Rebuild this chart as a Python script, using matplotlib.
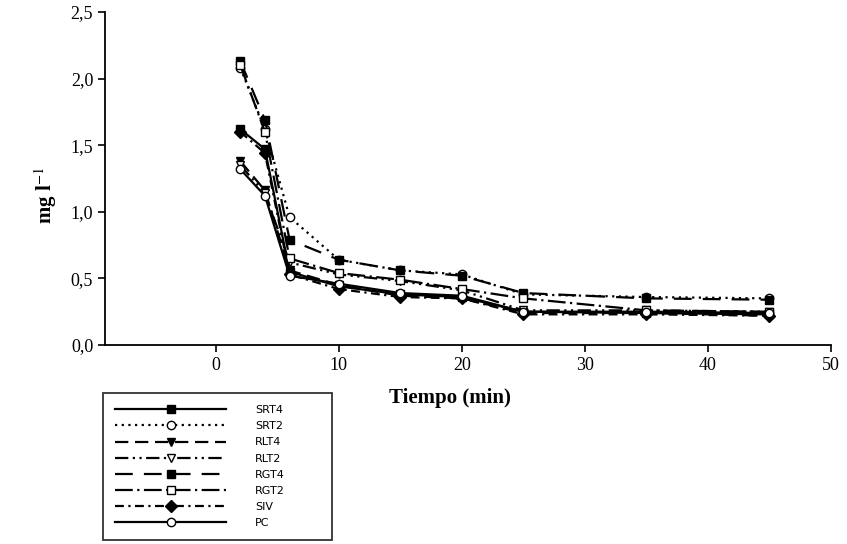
import numpy as np
import matplotlib.pyplot as plt

# tiempo de muestreo (min)
tiempo = [2, 4, 6, 10, 15, 20, 25, 35, 45]

# concentraciones (mg l-1)
srt4 = [1.62, 1.47, 0.55, 0.44, 0.38, 0.36, 0.25, 0.24, 0.23]
srt2 = [2.08, 1.62, 0.96, 0.64, 0.56, 0.53, 0.38, 0.36, 0.35]
rlt4 = [1.38, 1.16, 0.56, 0.45, 0.37, 0.35, 0.24, 0.24, 0.22]
rlt2 = [1.35, 1.14, 0.62, 0.53, 0.48, 0.41, 0.26, 0.26, 0.25]
rgt4 = [2.13, 1.69, 0.79, 0.64, 0.56, 0.52, 0.39, 0.35, 0.34]
rgt2 = [2.10, 1.60, 0.65, 0.54, 0.49, 0.42, 0.35, 0.26, 0.25]
siv = [1.60, 1.44, 0.53, 0.42, 0.36, 0.35, 0.23, 0.23, 0.22]
pc = [1.32, 1.12, 0.52, 0.46, 0.39, 0.37, 0.25, 0.25, 0.24]

labels = ['SRT4', 'SRT2', 'RLT4', 'RLT2', 'RGT4', 'RGT2', 'SIV', 'PC']
series = [srt4, srt2, rlt4, rlt2, rgt4, rgt2, siv, pc]

styles = [
    ('-', 's', 'k'),
    ((0, (1, 2)), 'o', 'w'),
    ((0, (6, 3)), 'v', 'k'),
    ((0, (6, 2, 1, 2, 1, 2)), 'v', 'w'),
    ((0, (8, 5)), 's', 'k'),
    ((0, (8, 2, 1, 2)), 's', 'w'),
    ((0, (4, 2, 1, 2)), 'D', 'k'),
    ('-', 'o', 'w'),
]

plt.rcParams['font.family'] = 'Liberation Serif'
plt.rcParams['mathtext.fontset'] = 'stix'

fig = plt.figure(figsize=(8.47, 5.44), dpi=100)
ax = fig.add_axes([105/847, 1-345/544, (831-105)/847, (345-12)/544])

for vals, lab, (ls, mk, fc) in zip(series, labels, styles):
    ax.plot(tiempo, vals, linestyle=ls, marker=mk, color='k', mfc=fc, mec='k',
            markersize=6, linewidth=1.6, label=lab)

ax.set_xlim(-9, 50)
ax.set_ylim(0, 2.5)
ax.set_xticks([0, 10, 20, 30, 40, 50])
ax.set_yticks(np.arange(0, 2.51, 0.5))
ax.set_yticklabels(['0,0', '0,5', '1,0', '1,5', '2,0', '2,5'])
ax.spines['top'].set_visible(False)
ax.spines['right'].set_visible(False)
ax.spines['left'].set_linewidth(1.3)
ax.spines['bottom'].set_linewidth(1.3)
ax.tick_params(direction='out', length=5, width=1.2, labelsize=13)

ax.set_xlabel('Tiempo (min)', fontsize=15, fontweight='bold')
ax.xaxis.set_label_coords(0.475, -0.13)
ax.set_ylabel('mg l$^{-1}$', fontsize=15, fontweight='bold')
ax.yaxis.set_label_coords(-0.064, 0.45)

leg = ax.legend(loc='upper left', bbox_to_anchor=(103/847, 0, 229/847, 1-393/544),
                bbox_transform=fig.transFigure, mode='expand', frameon=True,
                fancybox=False, edgecolor='k', handlelength=10, handletextpad=2.6,
                labelspacing=0.55, borderpad=1.1, borderaxespad=0,
                prop={'family': 'DejaVu Sans Condensed', 'size': 8})
leg.get_frame().set_linewidth(1.3)

fig.savefig('out.png', dpi=100)
